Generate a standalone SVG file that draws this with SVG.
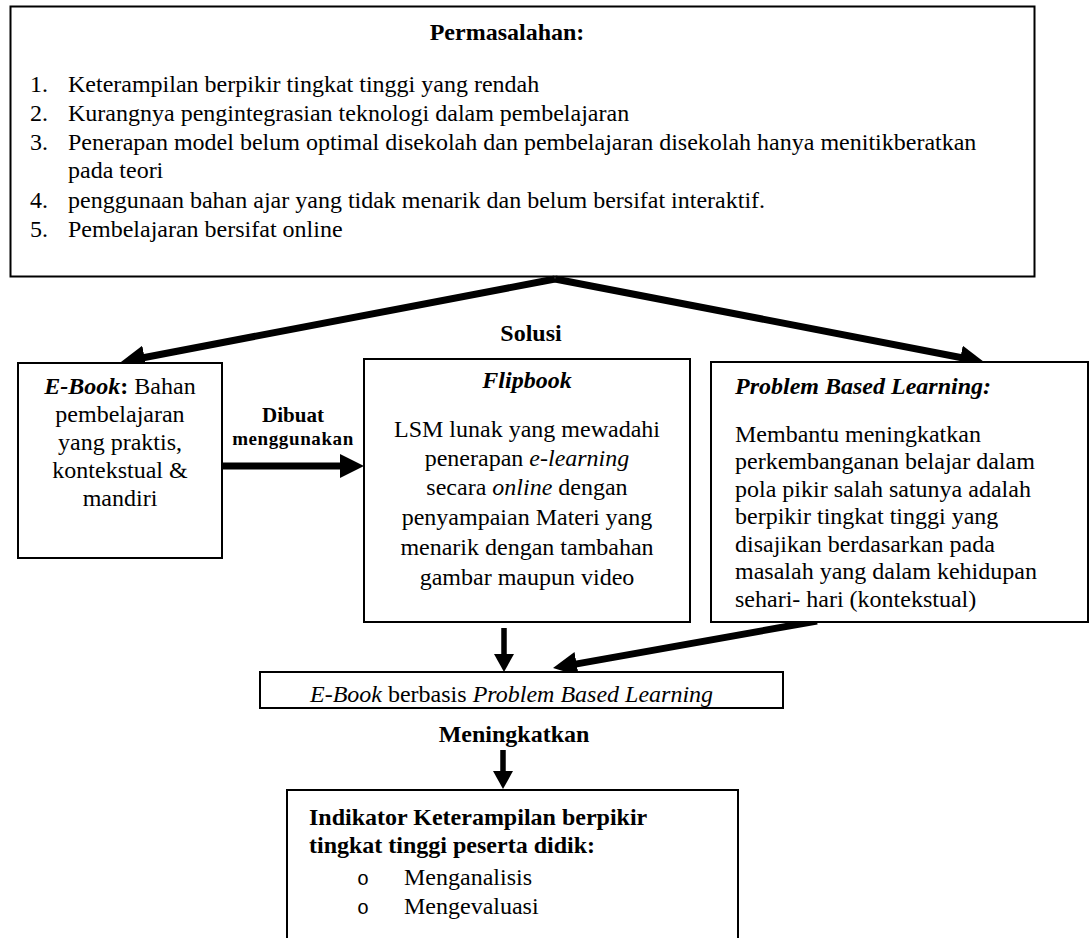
<svg xmlns="http://www.w3.org/2000/svg" width="1090" height="938" viewBox="0 0 1090 938">
<style>
.bx{fill:#fff;stroke:#000;stroke-width:2}
.t{font-family:"Liberation Serif","Times New Roman",serif;font-size:24px;fill:#000}
.b{font-weight:bold}
.i{font-style:italic}
.c{text-anchor:middle}
.big{stroke:#000;stroke-width:7;fill:none}
.sm{stroke:#000;stroke-width:5.5;fill:none}
.o{font-family:"Liberation Mono","Courier New",monospace;font-size:20px;text-anchor:middle;fill:#000}
</style>
<defs>
<marker id="ah" markerUnits="userSpaceOnUse" markerWidth="24" markerHeight="24" refX="4" refY="12" orient="auto">
<path d="M0,0 L24,12 L0,24 z" fill="#000"/>
</marker>
<marker id="ahs" markerUnits="userSpaceOnUse" markerWidth="18" markerHeight="20" refX="4" refY="10" orient="auto">
<path d="M0,0 L18,10 L0,20 z" fill="#000"/>
</marker>
</defs>
<rect width="1090" height="938" fill="#fff"/>

<g id="permasalahan">
<rect class="bx" x="10.5" y="6.5" width="1024" height="270"/>
<text class="t b c" x="507" y="40">Permasalahan:</text>
<text class="t" x="30" y="92">1.</text><text class="t" x="68" y="92">Keterampilan berpikir tingkat tinggi yang rendah</text>
<text class="t" x="30" y="121">2.</text><text class="t" x="68" y="121">Kurangnya pengintegrasian teknologi dalam pembelajaran</text>
<text class="t" x="30" y="150">3.</text><text class="t" x="68" y="150">Penerapan model belum optimal disekolah dan pembelajaran disekolah hanya menitikberatkan</text>
<text class="t" x="68" y="178">pada teori</text>
<text class="t" x="30" y="208">4.</text><text class="t" x="68" y="208">penggunaan bahan ajar yang tidak menarik dan belum bersifat interaktif.</text>
<text class="t" x="30" y="237">5.</text><text class="t" x="68" y="237">Pembelajaran bersifat online</text>
</g>

<g id="connectors">
<line class="big" x1="555" y1="279" x2="140.6" y2="358.2" marker-end="url(#ah)"/>
<line class="big" x1="555" y1="279" x2="964.4" y2="358.2" marker-end="url(#ah)"/>
<line class="big" x1="222" y1="466" x2="344" y2="466" stroke-width="8" marker-end="url(#ah)"/>
<line class="big" x1="817" y1="621" x2="572.7" y2="664.6" stroke-width="6.5" marker-end="url(#ah)"/>
<line class="sm" x1="504" y1="628" x2="504" y2="658" marker-end="url(#ahs)"/>
<line class="sm" x1="503" y1="750" x2="503" y2="775" marker-end="url(#ahs)"/>
<text class="t b c" x="531" y="341">Solusi</text>
<text class="t b c" x="293" y="422" style="font-size:21px">Dibuat</text>
<text class="t b c" x="293" y="445" style="font-size:19px;letter-spacing:0.6px">menggunakan</text>
<text class="t b c" x="514" y="742">Meningkatkan</text>
</g>

<g id="ebook">
<rect class="bx" x="18" y="363" width="204" height="195"/>
<text class="t c" x="120" y="394"><tspan class="b i">E-Book</tspan><tspan class="b">:</tspan> Bahan</text>
<text class="t c" x="120" y="422">pembelajaran</text>
<text class="t c" x="120" y="450">yang praktis,</text>
<text class="t c" x="120" y="478">kontekstual &amp;</text>
<text class="t c" x="120" y="506">mandiri</text>
</g>

<g id="flipbook">
<rect class="bx" x="364" y="359" width="326" height="263"/>
<text class="t b i c" x="527" y="388">Flipbook</text>
<text class="t c" x="527" y="437">LSM lunak yang mewadahi</text>
<text class="t c" x="527" y="466">penerapan <tspan class="i">e-learning</tspan></text>
<text class="t c" x="527" y="495">secara <tspan class="i">online</tspan> dengan</text>
<text class="t c" x="527" y="525">penyampaian Materi yang</text>
<text class="t c" x="527" y="555">menarik dengan tambahan</text>
<text class="t c" x="527" y="585">gambar maupun video</text>
</g>

<g id="pbl">
<rect class="bx" x="711" y="362" width="377" height="260"/>
<text class="t b i" x="735" y="394">Problem Based Learning:</text>
<text class="t" x="735" y="442">Membantu meningkatkan</text>
<text class="t" x="735" y="469">perkembanganan belajar dalam</text>
<text class="t" x="735" y="497">pola pikir salah satunya adalah</text>
<text class="t" x="735" y="524">berpikir tingkat tinggi yang</text>
<text class="t" x="735" y="552">disajikan berdasarkan pada</text>
<text class="t" x="735" y="579">masalah yang dalam kehidupan</text>
<text class="t" x="735" y="607">sehari- hari (kontekstual)</text>
</g>

<g id="ebook-pbl">
<rect class="bx" x="260" y="672" width="523" height="36" stroke-width="2.5"/>
<text class="t" x="310" y="702"><tspan class="i">E-Book</tspan> berbasis <tspan class="i">Problem Based Learning</tspan></text>
</g>

<g id="indikator">
<rect class="bx" x="287" y="790" width="451" height="170" stroke-width="3"/>
<text class="t b" x="309" y="825">Indikator Keterampilan berpikir</text>
<text class="t b" x="309" y="853">tingkat tinggi peserta didik:</text>
<text class="o" x="363" y="885">o</text>
<text class="t" x="404" y="885">Menganalisis</text>
<text class="o" x="363" y="914">o</text>
<text class="t" x="404" y="914">Mengevaluasi</text>
</g>
</svg>
